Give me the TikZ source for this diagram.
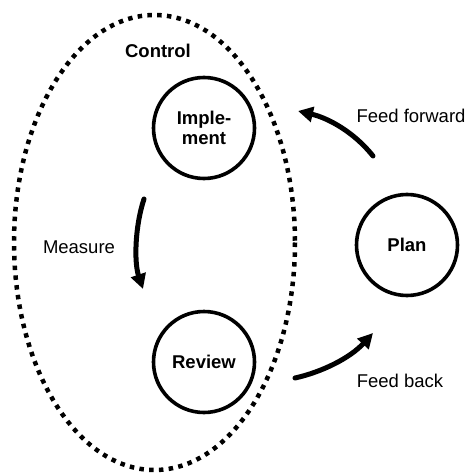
\documentclass[tikz,border=0pt]{standalone}
\usepackage{fontspec}
\setmainfont{Liberation Sans}
\usetikzlibrary{arrows.meta}
\begin{document}
\begin{tikzpicture}[x=1pt,y=-1pt,
  stage/.style={circle,draw,line width=3.6pt,minimum size=101pt,inner sep=0pt,font=\fontsize{18.5}{20}\selectfont\bfseries,align=center},
  lbl/.style={font=\fontsize{18.5}{20}\selectfont,inner sep=0pt},
  flow/.style={line width=5pt,line cap=round,-{Triangle[length=15pt,width=15pt]}}]
\useasboundingbox (0,0) rectangle (468,473);
\draw[line width=4.5pt,dash pattern=on 4.5pt off 5.3pt] (154.5,242.5) ellipse [x radius=140.5, y radius=227.5];
\node[lbl,font=\fontsize{18.5}{20}\selectfont\bfseries] (ctl) at (158,51) {Control};
\node[stage] (imp) at (204,128) {Imple-\\ment};
\node[stage] (rev) at (204,362) {Review};
\node[stage] (plan) at (407,245) {Plan};
\node[lbl] (ff) at (411,116) {Feed forward};
\node[lbl] (ms) at (79,247) {Measure};
\node[lbl] (fb) at (400,381) {Feed back};
\coordinate (ffs) at (373,156);
\coordinate (ffe) at (298,111);
\coordinate (mss) at (144,199);
\coordinate (mse) at (143,289);
\coordinate (fbs) at (295,378);
\coordinate (fbe) at (373,333);
\draw[flow] (ffs) .. controls (354,132) and (328,118) .. (ffe);
\draw[flow] (mss) .. controls (135,226) and (134,262) .. (mse);
\draw[flow] (fbs) .. controls (322,372) and (350,358) .. (fbe);
\end{tikzpicture}
\end{document}
